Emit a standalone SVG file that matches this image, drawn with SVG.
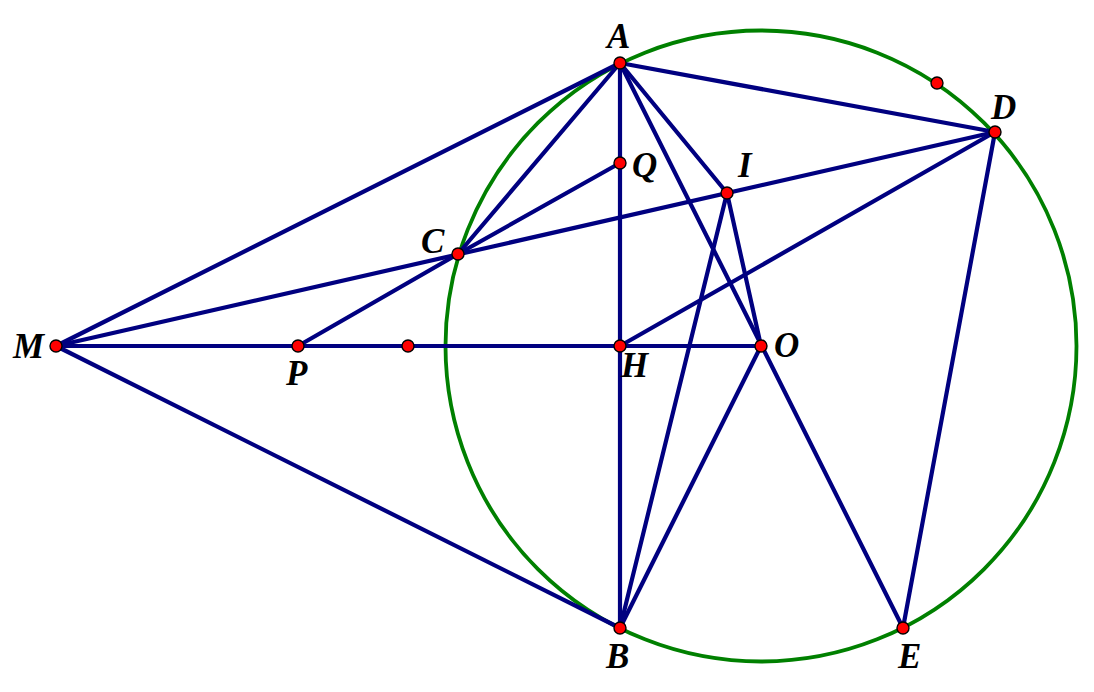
<svg xmlns="http://www.w3.org/2000/svg" width="1094" height="692" viewBox="0 0 1094 692">
<style>
.c{fill:none;stroke:#008000;stroke-width:3.8}
.l{stroke:#000080;stroke-width:4.2;stroke-linecap:round;fill:none}
.p{fill:#ff0000;stroke:#000000;stroke-width:1.4}
.t{font-family:"Liberation Serif","Times New Roman",serif;font-weight:bold;font-style:italic;font-size:35px;fill:#000000}
</style>
<rect width="1094" height="692" fill="#ffffff"/>
<g id="circle"><circle class="c" cx="761" cy="346" r="315.5"/></g>
<g id="connectors">
<line class="l" x1="56" y1="346" x2="620" y2="63"/>
<line class="l" x1="56" y1="346" x2="995" y2="132"/>
<line class="l" x1="56" y1="346" x2="761" y2="346"/>
<line class="l" x1="56" y1="346" x2="620" y2="628"/>
<line class="l" x1="620" y1="63" x2="620" y2="628"/>
<line class="l" x1="620" y1="63" x2="458" y2="254"/>
<line class="l" x1="620" y1="63" x2="995" y2="132"/>
<line class="l" x1="620" y1="63" x2="903" y2="628"/>
<line class="l" x1="620" y1="63" x2="727" y2="193"/>
<line class="l" x1="727" y1="193" x2="761" y2="346"/>
<line class="l" x1="727" y1="193" x2="620" y2="628"/>
<line class="l" x1="458" y1="254" x2="620" y2="163"/>
<line class="l" x1="458" y1="254" x2="298" y2="346"/>
<line class="l" x1="620" y1="346" x2="995" y2="132"/>
<line class="l" x1="761" y1="346" x2="620" y2="628"/>
<line class="l" x1="995" y1="132" x2="903" y2="628"/>
</g>
<g id="node-A"><circle class="p" cx="620" cy="63" r="6"/><text class="t" x="607" y="48">A</text></g>
<g id="node-D"><circle class="p" cx="995" cy="132" r="6"/><text class="t" x="991" y="119">D</text></g>
<g id="node-X"><circle class="p" cx="937" cy="83" r="6"/></g>
<g id="node-Q"><circle class="p" cx="620" cy="163" r="6"/><text class="t" x="632" y="177">Q</text></g>
<g id="node-I"><circle class="p" cx="727" cy="193" r="6"/><text class="t" x="738" y="177">I</text></g>
<g id="node-C"><circle class="p" cx="458" cy="254" r="6"/><text class="t" x="421" y="253">C</text></g>
<g id="node-M"><circle class="p" cx="56" cy="346" r="6"/><text class="t" x="13" y="358">M</text></g>
<g id="node-P"><circle class="p" cx="298" cy="346" r="6"/><text class="t" x="286" y="385">P</text></g>
<g id="node-Y"><circle class="p" cx="408" cy="346" r="6"/></g>
<g id="node-H"><circle class="p" cx="620" cy="346" r="6"/><text class="t" x="621" y="377">H</text></g>
<g id="node-O"><circle class="p" cx="761" cy="346" r="6"/><text class="t" x="774" y="357">O</text></g>
<g id="node-B"><circle class="p" cx="620" cy="628" r="6"/><text class="t" x="606" y="668">B</text></g>
<g id="node-E"><circle class="p" cx="903" cy="628" r="6"/><text class="t" x="898" y="668">E</text></g>
</svg>
